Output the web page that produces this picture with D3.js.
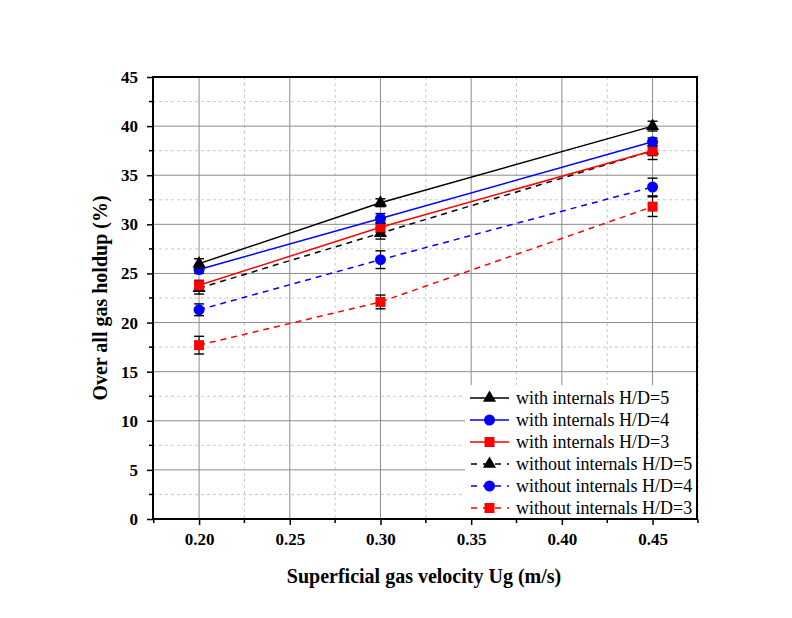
<!DOCTYPE html>
<html>
<head>
<meta charset="utf-8">
<script src="https://cdn.jsdelivr.net/npm/d3@7"></script>
<style>
  body { margin: 0; background: #fff; }
</style>
</head>
<body>
<div id="chart"></div>
<script>
'use strict';

// data
var velocities = [0.20, 0.30, 0.45];
var xTicks = [0.20, 0.25, 0.30, 0.35, 0.40, 0.45];
var yTicks = [0, 5, 10, 15, 20, 25, 30, 35, 40, 45];

var withH5 = [26.0, 32.2, 40.0];
var withH4 = [25.4, 30.6, 38.4];
var withH3 = [23.8, 29.7, 37.5];
var withoutH5 = [23.5, 29.1, 37.5];
var withoutH4 = [21.3, 26.4, 33.8];
var withoutH3 = [17.7, 22.1, 31.8];

var errWithH5 = [0.5, 0.4, 0.5];
var errWithH4 = [0.4, 0.5, 0.4];
var errWithH3 = [0.5, 0.5, 0.5];
var errWithoutH5 = [0.6, 0.6, 0.9];
var errWithoutH4 = [0.6, 0.9, 0.9];
var errWithoutH3 = [0.9, 0.7, 1.0];

var labels = [
  'with internals H/D=5', 'with internals H/D=4', 'with internals H/D=3',
  'without internals H/D=5', 'without internals H/D=4', 'without internals H/D=3'
];

var series = [
  { name: labels[0], values: withH5, err: errWithH5, color: '#000', symbol: 'tri', dashed: false },
  { name: labels[1], values: withH4, err: errWithH4, color: '#0000ff', symbol: 'circ', dashed: false },
  { name: labels[2], values: withH3, err: errWithH3, color: '#ff0000', symbol: 'sq', dashed: false },
  { name: labels[3], values: withoutH5, err: errWithoutH5, color: '#000', symbol: 'tri', dashed: true },
  { name: labels[4], values: withoutH4, err: errWithoutH4, color: '#0000ff', symbol: 'circ', dashed: true },
  { name: labels[5], values: withoutH3, err: errWithoutH3, color: '#ff0000', symbol: 'sq', dashed: true }
];

var SERIF = '"Liberation Serif", "Times New Roman", serif';

var W = 792, H = 618,
    padl = 153, padt = 77, padr = 95, padb = 99,
    w = W - padl - padr,
    h = H - padt - padb;

var x = d3.scaleLinear().domain([0.1746, 0.4745]).range([0, w]),
    y = d3.scaleLinear().domain([0, 45]).range([h, 0]);

var svg = d3.select('#chart').append('svg')
    .attr('width', W)
    .attr('height', H)
    .attr('font-family', SERIF);

var vis = svg.append('g')
    .attr('transform', 'translate(' + padl + ',' + padt + ')');

var minorX = d3.range(0.175, 0.4751, 0.025).filter(function (v) {
  return xTicks.every(function (t) { return Math.abs(t - v) > 1e-6; });
});
var minorY = d3.range(2.5, 45, 5);

// minor grid (dashed, faint)
vis.append('g').selectAll('line')
  .data(minorY).enter().append('line')
  .attr('x1', 0).attr('x2', w)
  .attr('y1', function (d) { return y(d); }).attr('y2', function (d) { return y(d); })
  .attr('stroke', '#c8c8c8').attr('stroke-dasharray', '3,3').attr('stroke-width', 1);
vis.append('g').selectAll('line')
  .data(minorX).enter().append('line')
  .attr('y1', 0).attr('y2', h)
  .attr('x1', function (d) { return x(d); }).attr('x2', function (d) { return x(d); })
  .attr('stroke', '#c8c8c8').attr('stroke-dasharray', '3,3').attr('stroke-width', 1);

// major grid
vis.append('g').selectAll('line')
  .data(yTicks.slice(1, -1)).enter().append('line')
  .attr('x1', 0).attr('x2', w)
  .attr('y1', function (d) { return y(d); }).attr('y2', function (d) { return y(d); })
  .attr('stroke', '#8c8c8c').attr('stroke-width', 1);
vis.append('g').selectAll('line')
  .data(xTicks).enter().append('line')
  .attr('y1', 0).attr('y2', h)
  .attr('x1', function (d) { return x(d); }).attr('x2', function (d) { return x(d); })
  .attr('stroke', '#8c8c8c').attr('stroke-width', 1);

// axes
var xAxis = d3.axisBottom(x).tickValues(xTicks).tickFormat(d3.format('.2f')).tickSize(6).tickPadding(8);
var yAxis = d3.axisLeft(y).tickValues(yTicks).tickFormat(d3.format('d')).tickSize(6).tickPadding(9);

var gx = vis.append('g')
  .attr('transform', 'translate(0,' + h + ')')
  .call(xAxis);
gx.append('g').selectAll('line')
  .data(minorX).enter().append('line')
  .attr('x1', function (d) { return x(d); }).attr('x2', function (d) { return x(d); })
  .attr('y1', 0).attr('y2', 4).attr('stroke', '#000').attr('stroke-width', 1.5);

var gy = vis.append('g').call(yAxis);
gy.append('g').selectAll('line')
  .data(minorY).enter().append('line')
  .attr('y1', function (d) { return y(d); }).attr('y2', function (d) { return y(d); })
  .attr('x1', 0).attr('x2', -4).attr('stroke', '#000').attr('stroke-width', 1.5);

[gx, gy].forEach(function (g) {
  g.attr('font-family', SERIF).attr('font-size', 17).attr('font-weight', 'bold');
  g.selectAll('.domain').remove();
  g.selectAll('.tick line').attr('stroke', '#000').attr('stroke-width', 1.5);
  g.selectAll('.tick text').attr('fill', '#000');
});

// frame
vis.append('rect')
  .attr('x', 0).attr('y', 0).attr('width', w).attr('height', h)
  .attr('fill', 'none').attr('stroke', '#000').attr('stroke-width', 2);

// symbols
function drawMarker(g, type, color) {
  if (type === 'tri') {
    g.append('path').attr('d', d3.symbol().type(d3.symbolTriangle).size(75)()).attr('fill', color);
  } else if (type === 'circ') {
    g.append('circle').attr('r', 5.5).attr('fill', color);
  } else {
    g.append('rect').attr('x', -5).attr('y', -5).attr('width', 10).attr('height', 10).attr('fill', color);
  }
}

var line = d3.line()
  .x(function (d) { return x(d[0]); })
  .y(function (d) { return y(d[1]); });

// draw dashed series first, then solid ones on top
var drawOrder = [3, 4, 5, 2, 1, 0];
drawOrder.forEach(function (i) {
  var s = series[i];
  var pts = velocities.map(function (v, j) { return [v, s.values[j], s.err[j]]; });
  var g = vis.append('g');

  g.append('path')
    .datum(pts)
    .attr('d', line)
    .attr('fill', 'none')
    .attr('stroke', s.color)
    .attr('stroke-width', 1.5)
    .attr('stroke-dasharray', s.dashed ? '6,5' : null);

  var eb = g.selectAll('g.err').data(pts).enter().append('g').attr('class', 'err');
  eb.append('line')
    .attr('x1', function (d) { return x(d[0]); }).attr('x2', function (d) { return x(d[0]); })
    .attr('y1', function (d) { return y(d[1] - d[2]); }).attr('y2', function (d) { return y(d[1] + d[2]); })
    .attr('stroke', '#000').attr('stroke-width', 1);
  [-1, 1].forEach(function (sgn) {
    eb.append('line')
      .attr('x1', function (d) { return x(d[0]) - 5; }).attr('x2', function (d) { return x(d[0]) + 5; })
      .attr('y1', function (d) { return y(d[1] + sgn * d[2]); }).attr('y2', function (d) { return y(d[1] + sgn * d[2]); })
      .attr('stroke', '#000').attr('stroke-width', 1.4);
  });

  g.selectAll('g.mk').data(pts).enter().append('g')
    .attr('class', 'mk')
    .attr('transform', function (d) { return 'translate(' + x(d[0]) + ',' + y(d[1]) + ')'; })
    .each(function () { drawMarker(d3.select(this), s.symbol, s.color); });
});

// legend
var legX = 312, legY = 308, legW = w - legX, legH = h - legY;
var leg = vis.append('g');
leg.append('rect')
  .attr('x', legX).attr('y', legY).attr('width', legW - 1).attr('height', legH - 1)
  .attr('fill', '#fff');
series.forEach(function (s, i) {
  var ly = legY + 13 + i * 22;
  var row = leg.append('g');
  row.append('line')
    .attr('x1', legX + 5).attr('x2', legX + 44)
    .attr('y1', ly).attr('y2', ly)
    .attr('stroke', s.color).attr('stroke-width', 1.5)
    .attr('stroke-dasharray', s.dashed ? '6,6' : null)
    .attr('stroke-dashoffset', s.dashed ? -1 : null);
  var mk = row.append('g').attr('transform', 'translate(' + (legX + 24.5) + ',' + ly + ')');
  drawMarker(mk, s.symbol, s.color);
  row.append('text')
    .attr('x', legX + 51).attr('y', ly + 6)
    .attr('font-family', SERIF)
    .attr('font-size', 18)
    .attr('fill', '#000')
    .text(s.name);
});
// redraw frame edges over legend
vis.append('line').attr('x1', w).attr('x2', w).attr('y1', 0).attr('y2', h).attr('stroke', '#000').attr('stroke-width', 2);
vis.append('line').attr('x1', 0).attr('x2', w).attr('y1', h).attr('y2', h).attr('stroke', '#000').attr('stroke-width', 2);

// axis titles
svg.append('text')
  .attr('x', 424).attr('y', 583)
  .attr('text-anchor', 'middle')
  .attr('font-family', SERIF)
  .attr('font-size', 20).attr('font-weight', 'bold')
  .text('Superficial gas velocity Ug (m/s)');

svg.append('text')
  .attr('transform', 'translate(107,298) rotate(-90)')
  .attr('text-anchor', 'middle')
  .attr('font-family', SERIF)
  .attr('font-size', 20).attr('font-weight', 'bold')
  .text('Over all gas holdup (%)');
</script>
</body>
</html>
